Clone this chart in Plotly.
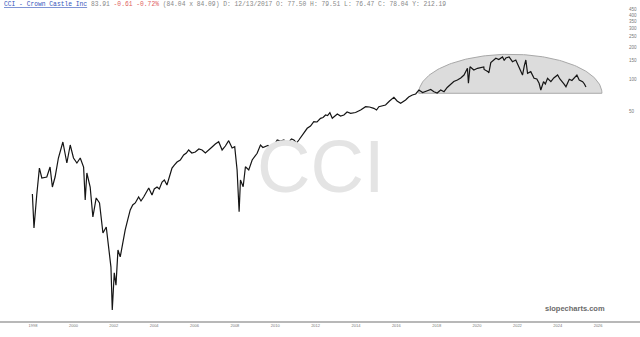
import numpy as np
import pandas as pd
import plotly.graph_objects as go

dates = [
"1998-06-19","1998-07-18","1998-09-06","1998-10-24","1998-12-07","1999-03-07","1999-05-05","1999-06-16","1999-08-04","1999-10-03",
"1999-12-23","2000-03-04","2000-05-04","2000-07-02","2000-09-02","2000-11-01","2001-01-01","2001-01-30","2001-03-01","2001-04-30",
"2001-06-18","2001-08-17","2001-10-16","2001-12-17","2002-02-15","2002-03-28","2002-05-11","2002-06-04","2002-07-10","2002-08-10",
"2002-09-15","2002-10-26","2002-11-26","2003-01-24","2003-03-10","2003-04-25","2003-06-09","2003-07-25","2003-09-24","2003-11-06",
"2003-12-24","2004-02-09","2004-03-25","2004-05-23","2004-07-03","2004-08-22","2004-10-02","2004-11-21","2005-01-01","2005-02-18",
"2005-04-01","2005-05-20","2005-07-01","2005-08-19","2005-10-17","2005-12-17","2006-02-04","2006-03-17","2006-05-14","2006-07-16",
"2006-09-18","2006-11-15","2007-01-14","2007-03-07","2007-05-15","2007-07-13","2007-09-12","2007-11-13","2008-01-11","2008-03-11",
"2008-05-12","2008-06-28","2008-08-10","2008-09-16","2008-10-10","2008-11-28","2009-01-08","2009-03-09","2009-05-10","2009-08-08",
"2009-10-07","2009-11-20","2010-01-06","2010-02-19","2010-04-07","2010-05-30","2010-08-07","2010-10-04","2010-12-05","2011-01-21",
"2011-03-06","2011-04-22","2011-06-04","2011-07-22","2011-09-02","2011-11-02","2011-12-14","2012-01-31","2012-03-31","2012-05-29",
"2012-07-27","2012-09-28","2012-11-13","2012-12-28","2013-02-03","2013-03-16","2013-04-29","2013-07-29","2013-09-26","2013-11-25",
"2014-01-22","2014-03-27","2014-06-24","2014-09-24","2014-12-23","2015-03-03","2015-05-21","2015-07-09","2015-08-20","2015-10-17",
"2015-12-19","2016-02-29","2016-05-18","2016-07-15","2016-09-17","2016-12-16","2017-02-09","2017-04-17","2017-06-16","2017-08-14",
"2017-10-20","2018-01-14","2018-03-15","2018-05-13","2018-07-10","2018-09-12","2018-11-11","2019-01-08","2019-03-12","2019-05-07",
"2019-07-11","2019-09-10","2019-11-08","2020-01-09","2020-01-27","2020-02-25","2020-05-04","2020-07-09","2020-10-31","2020-11-06",
"2021-01-17","2021-01-30","2021-03-07","2021-04-21","2021-06-06","2021-07-30","2021-10-05","2021-11-05","2021-12-04","2022-02-01",
"2022-04-03","2022-06-02","2022-08-01","2022-09-02","2022-10-02","2022-11-03","2022-12-01","2023-01-01","2023-02-28","2023-04-29",
"2023-06-18","2023-07-29","2023-08-29","2023-10-17","2023-11-19","2023-12-29","2024-02-27","2024-04-20","2024-06-28","2024-08-08",
"2024-09-27","2024-10-20","2024-11-26","2025-01-25","2025-03-14","2025-04-24","2025-06-12","2025-07-24","2025-09-24","2025-10-26",
"2025-11-23"]

prices = [
8.28,3.97,8.10,14.54,11.71,11.97,14.86,9.64,11.97,18.06,
25.55,16.21,23.94,18.06,16.21,18.06,14.86,7.27,13.05,9.64,
5.03,7.60,6.82,3.56,4.05,2.63,1.70,0.671,1.50,1.15,
2.46,2.12,2.63,3.80,4.72,5.86,6.53,6.82,7.76,7.12,
7.76,8.65,9.43,8.10,9.23,9.64,9.23,10.74,11.21,10.07,
12.23,14.54,15.52,16.57,17.30,19.28,20.13,21.49,20.13,20.57,
21.96,21.49,20.13,21.49,22.93,24.46,25.72,21.49,23.42,26.28,
22.44,23.07,13.93,5.64,11.21,9.70,14.96,13.93,17.30,20.0,
23.94,22.68,23.07,23.68,22.29,23.42,26.68,26.11,26.68,25.0,
25.72,27.26,26.68,25.0,26.68,29.73,32.42,34.38,36.13,39.66,
39.40,42.68,43.43,45.85,45.33,48.19,42.68,46.86,44.87,45.85,
48.93,47.58,48.4,51.09,54.9,54.5,53.0,51.09,54.9,56.3,
56.9,62.1,67.3,62.1,59.1,63.45,67.7,70.7,72.3,78.8,
74.6,77.6,79.6,75.9,73.9,78.8,75.9,83.2,89.8,94.7,
97.9,102.2,109.0,126.1,91.1,130.5,121.5,126.1,129.7,122.9,
117.2,113.9,142.9,150.9,156.6,152.5,161.1,149.3,157.6,161.1,
145.4,150.9,126.1,116.4,109.0,132.6,150.9,113.1,117.2,101.5,
100.0,91.1,78.8,94.3,89.8,101.5,94.3,102.2,109.0,100.0,
94.3,89.8,84.6,99.4,96.8,101.5,109.0,97.9,94.3,89.8,
83.91]

year_labels = [str(y) for y in range(1998, 2027, 2)]
year_ticks = [f"{y}-07-01" for y in range(1998, 2027, 2)]
price_ticks = [50, 100, 150, 200, 250, 300, 350, 400, 450]

# Dome annotation (rounded top highlight)
dome_start = "2017-08-10"
dome_end = "2026-09-08"
dome_base = 73.4
dome_top = 170.8

t0 = pd.Timestamp(dome_start).value
t1 = pd.Timestamp(dome_end).value
tc = (t0 + t1) / 2
ta = (t1 - t0) / 2
lb = np.log10(dome_base)
lh = np.log10(dome_top) - lb
th = np.linspace(np.pi, 0, 120)
dx = pd.to_datetime(tc + ta * np.cos(th))
dy = 10 ** (lb + lh * np.sin(th))
dome_x = list(dx) + [pd.Timestamp(dome_start)]
dome_y = list(dy) + [dome_base]

W, H = 640, 337
ml, mr, mt, mb = 0, 12, 0, 15
pw = W - ml - mr
ph = H - mt - mb

fig = go.Figure()
fig.add_trace(go.Scatter(x=dome_x, y=dome_y, mode="lines", fill="toself",
                         fillcolor="#dcdcdc", line=dict(color="#a8a8a8", width=1),
                         hoverinfo="skip", showlegend=False))
fig.add_trace(go.Scatter(x=pd.to_datetime(dates), y=prices, mode="lines",
                         line=dict(color="#151515", width=1.2), showlegend=False))

header = ("<span style='color:#3355bb;text-decoration:underline'>CCI - Crown Castle Inc</span>"
          "<span style='color:#888888'> 83.91 </span>"
          "<span style='color:#e06060'>-0.61 -0.72%</span>"
          "<span style='color:#888888'> (84.04 x 84.09) D: 12/13/2017 O: 77.50 H: 79.51 L: 76.47 C: 78.04 Y: 212.19</span>")

fig.add_annotation(text=header, xref="paper", yref="paper", x=2 / pw, y=1 - 5 / ph,
                   xanchor="left", yanchor="middle", showarrow=False,
                   font=dict(family="Liberation Mono", size=6.3, color="#888888"))
fig.add_annotation(text="CCI", xref="paper", yref="paper", x=320 / pw, y=1 - 166 / ph,
                   xanchor="center", yanchor="middle", showarrow=False,
                   font=dict(family="Liberation Sans", size=74, color="#e4e4e4"))
fig.add_annotation(text="<b>slopecharts.com</b>", xref="paper", yref="paper", x=607 / pw, y=1 - 308 / ph,
                   xanchor="right", yanchor="middle", showarrow=False,
                   font=dict(family="Liberation Sans", size=7.5, color="#6a6a6a"))

fig.add_shape(type="line", xref="paper", yref="paper", x0=0, x1=W / pw, y0=0, y1=0,
              line=dict(color="#a0a0a0", width=1.5))

fig.update_layout(
    width=W, height=H,
    margin=dict(l=ml, r=mr, t=mt, b=mb),
    paper_bgcolor="white", plot_bgcolor="white",
    showlegend=False,
    xaxis=dict(range=["1996-11-10", "2027-12-24"], tickvals=year_ticks, ticktext=year_labels,
               showgrid=False, zeroline=False, showline=False, ticks="",
               tickfont=dict(family="Liberation Sans", size=4, color="#777777")),
    yaxis=dict(type="log", range=[-0.286, 2.7432], side="right", tickvals=price_ticks,
               ticktext=[str(v) for v in price_ticks],
               showgrid=False, zeroline=False, showline=False, ticks="",
               tickfont=dict(family="Liberation Sans", size=4.5, color="#777777")),
)

fig.write_html("out.html")
